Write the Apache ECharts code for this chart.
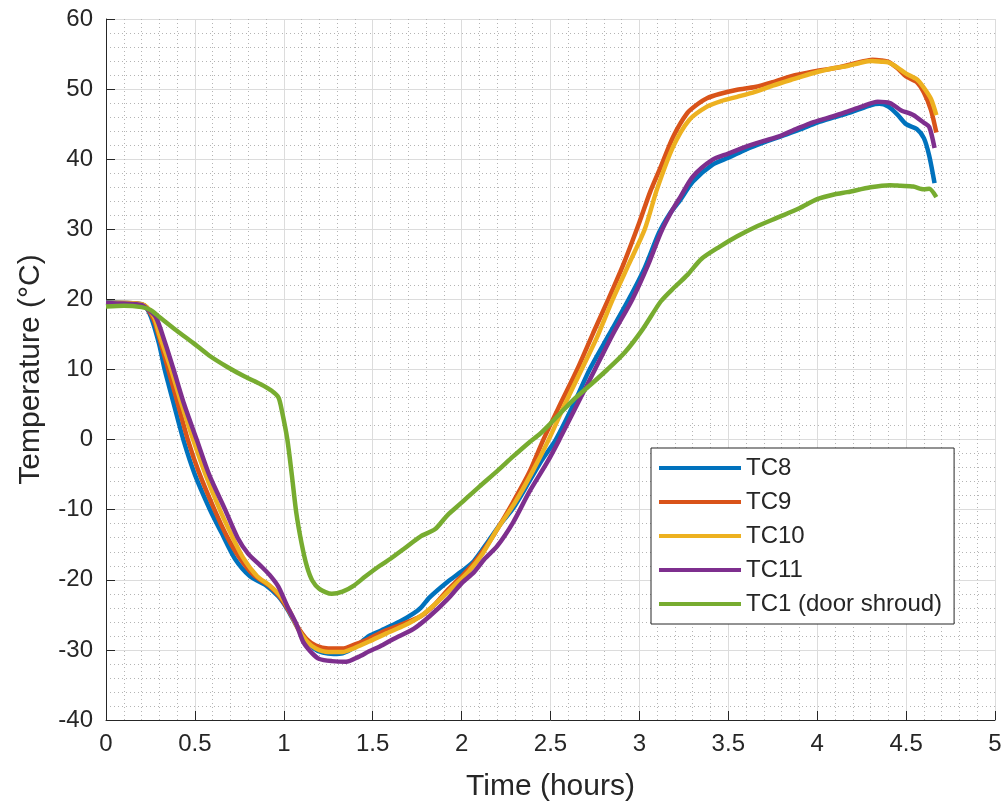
<!DOCTYPE html>
<html>
<head>
<meta charset="utf-8">
<script src="https://cdn.jsdelivr.net/npm/echarts@6/dist/echarts.min.js"></script>
<style>
  html, body { margin: 0; padding: 0; background: #fff; }
  #chart { width: 1008px; height: 807px; }
</style>
</head>
<body>
<div id="chart"></div>
<script>
// Thermocouple readings: time (hours) and temperature (°C) for each channel
const tc8Time = [0, 0.1, 0.2, 0.23, 0.26, 0.3, 0.33, 0.38, 0.435, 0.5, 0.585, 0.65, 0.725, 0.81, 0.9, 0.97, 1.02, 1.07, 1.11, 1.17, 1.22, 1.28, 1.33, 1.4, 1.48, 1.55, 1.65, 1.73, 1.77, 1.82, 1.92, 2.0, 2.07, 2.15, 2.22, 2.29, 2.38, 2.45, 2.53, 2.62, 2.72, 2.83, 2.94, 3.03, 3.11, 3.17, 3.23, 3.3, 3.41, 3.5, 3.6, 3.7, 3.8, 3.9, 4.0, 4.1, 4.2, 4.3, 4.35, 4.4, 4.45, 4.5, 4.56, 4.6, 4.63, 4.66];
const tc8Temp = [19.6, 19.5, 19.3, 18.7, 17, 13.5, 10, 5.2, 0, -5, -10, -13.3, -17, -19.5, -20.8, -22.4, -24.2, -26.5, -28, -29.8, -30.4, -30.6, -30.5, -29.6, -28, -27.2, -26, -24.8, -24, -22.5, -20.3, -18.8, -17.3, -14.5, -12, -9.8, -6, -3, 0, 4.5, 10, 15, 20, 24.5, 29.5, 32.2, 34.2, 36.8, 39.2, 40.2, 41.4, 42.4, 43.3, 44.2, 45.2, 46, 46.8, 47.7, 47.9, 47.5, 46.4, 45, 44.3, 43, 40.5, 36.6];

const tc9Time = [0, 0.1, 0.2, 0.23, 0.27, 0.3, 0.35, 0.4, 0.46, 0.52, 0.61, 0.68, 0.75, 0.83, 0.92, 0.98, 1.03, 1.08, 1.13, 1.18, 1.25, 1.33, 1.4, 1.48, 1.55, 1.65, 1.77, 1.85, 1.92, 2.0, 2.07, 2.15, 2.2, 2.29, 2.38, 2.46, 2.55, 2.65, 2.74, 2.825, 2.91, 3.0, 3.06, 3.12, 3.19, 3.27, 3.33, 3.38, 3.45, 3.55, 3.65, 3.75, 3.85, 3.98, 4.1, 4.17, 4.25, 4.31, 4.36, 4.4, 4.45, 4.5, 4.56, 4.6, 4.64, 4.67];
const tc9Temp = [19.5, 19.5, 19.3, 18.8, 17, 14.5, 10, 5.5, 0, -4.5, -10, -13.8, -16.8, -19.3, -20.9, -22.5, -24.5, -26.8, -28.5, -29.4, -29.8, -29.8, -29.2, -28.4, -27.5, -26.5, -25.2, -23.5, -21.5, -19.5, -17.6, -14.8, -12.8, -8.9, -4.7, 0, 4.8, 10, 15.2, 20, 25, 31, 35.3, 38.9, 43.2, 46.6, 47.9, 48.7, 49.3, 49.9, 50.3, 51, 51.8, 52.5, 53, 53.4, 53.9, 54.2, 54.1, 53.9, 53, 51.8, 51, 49.5, 47, 43.8];

const tc10Time = [0, 0.1, 0.2, 0.23, 0.27, 0.3, 0.36, 0.42, 0.49, 0.56, 0.64, 0.7, 0.77, 0.85, 0.92, 0.98, 1.03, 1.08, 1.13, 1.18, 1.25, 1.33, 1.4, 1.48, 1.58, 1.68, 1.78, 1.88, 1.96, 2.04, 2.12, 2.2, 2.3, 2.4, 2.49, 2.58, 2.675, 2.76, 2.85, 2.94, 3.03, 3.1, 3.19, 3.28, 3.38, 3.46, 3.55, 3.65, 3.75, 3.85, 3.98, 4.1, 4.17, 4.25, 4.31, 4.36, 4.4, 4.45, 4.5, 4.56, 4.6, 4.64, 4.67];
const tc10Temp = [19.5, 19.5, 19.3, 18.9, 17.5, 15, 10.5, 5.5, 0, -5, -10, -13.3, -16.8, -19.5, -20.8, -22.3, -24.3, -27, -28.8, -29.8, -30.3, -30.3, -29.7, -28.8, -27.6, -26.5, -25, -22.8, -20.8, -18.8, -16.2, -12.8, -9, -4.5, 0, 5, 10, 14.5, 20, 25, 30, 35.8, 41.8, 45.6, 47.5, 48.3, 48.9, 49.6, 50.5, 51.3, 52.3, 53, 53.3, 53.8, 54, 53.9, 53.8, 53.1, 52.2, 51.4, 50.2, 48.6, 46.3];

const tc11Time = [0, 0.1, 0.2, 0.23, 0.28, 0.33, 0.38, 0.44, 0.51, 0.58, 0.67, 0.74, 0.8, 0.87, 0.92, 0.97, 1.02, 1.07, 1.11, 1.16, 1.2, 1.27, 1.35, 1.42, 1.48, 1.54, 1.62, 1.73, 1.82, 1.92, 2.0, 2.07, 2.13, 2.2, 2.29, 2.38, 2.48, 2.55, 2.65, 2.75, 2.85, 2.96, 3.05, 3.12, 3.18, 3.23, 3.3, 3.41, 3.5, 3.6, 3.7, 3.79, 3.9, 3.98, 4.1, 4.17, 4.25, 4.34, 4.41, 4.47, 4.54, 4.6, 4.63, 4.66];
const tc11Temp = [19.5, 19.4, 19.2, 18.7, 17.5, 14, 10, 5, 0, -5, -10, -14, -16.3, -18, -19.3, -21, -23.8, -26.3, -28.9, -30.5, -31.3, -31.6, -31.7, -31, -30.2, -29.5, -28.4, -27, -25.2, -22.8, -20.5, -18.9, -17, -15.2, -11.8, -7.5, -3.3, 0, 5, 10, 15, 20, 25, 29.5, 32.5, 34.6, 37.5, 39.9, 40.8, 41.8, 42.6, 43.3, 44.5, 45.3, 46.2, 46.8, 47.5, 48.2, 48, 47, 46.3, 45.2, 44.6, 41.6];

const tc1Time = [0, 0.1, 0.2, 0.25, 0.3, 0.4, 0.49, 0.58, 0.68, 0.78, 0.87, 0.93, 0.97, 0.99, 1.02, 1.045, 1.07, 1.1, 1.13, 1.16, 1.2, 1.27, 1.33, 1.39, 1.46, 1.54, 1.6, 1.68, 1.77, 1.85, 1.92, 2.0, 2.1, 2.2, 2.29, 2.38, 2.44, 2.5, 2.63, 2.72, 2.82, 2.92, 3.02, 3.12, 3.2, 3.27, 3.35, 3.45, 3.55, 3.65, 3.79, 3.9, 4.0, 4.1, 4.17, 4.3, 4.41, 4.47, 4.54, 4.6, 4.63, 4.67];
const tc1Temp = [19, 19.1, 18.9, 18.5, 17.5, 15.5, 13.8, 12, 10.4, 9, 7.9, 7, 6, 4, 0, -5, -10.4, -14.8, -18.1, -20.1, -21.3, -22, -21.7, -20.9, -19.5, -18, -17, -15.5, -13.8, -12.8, -10.8, -9, -6.7, -4.5, -2.4, -0.4, 0.8, 2.3, 5.7, 7.7, 10, 12.5, 15.8, 19.7, 21.8, 23.5, 25.8, 27.5, 29, 30.3, 31.8, 33, 34.3, 35, 35.3, 36, 36.3, 36.2, 36.1, 35.7, 35.8, 34.6];

const seriesNames = ['TC8', 'TC9', 'TC10', 'TC11', 'TC1 (door shroud)'];
const seriesColors = ['#0072BD', '#D95319', '#EDB120', '#7E2F8E', '#77AC30'];
const xTicks = { min: 0, max: 5, step: 0.5 };
const yTicks = { min: -40, max: 60, step: 10 };

const pairs = (t, v) => t.map((x, i) => [x, v[i]]);
const allData = [
  pairs(tc8Time, tc8Temp),
  pairs(tc9Time, tc9Temp),
  pairs(tc10Time, tc10Temp),
  pairs(tc11Time, tc11Temp),
  pairs(tc1Time, tc1Temp)
];

const FONT = "'Liberation Sans', Arial, Helvetica, sans-serif";
const INK = '#262626';

const axisCommon = {
  axisLine: { show: true, onZero: false, lineStyle: { color: INK, width: 1 } },
  axisTick: { show: true, inside: true, length: 9, lineStyle: { color: INK } },
  axisLabel: { color: INK, fontSize: 24, fontFamily: FONT },
  splitLine: { show: true, lineStyle: { color: '#dcdcdc', width: 1 } },
  minorTick: { show: false, splitNumber: 5 },
  minorSplitLine: { show: true, lineStyle: { color: '#b4b4b4', width: 1, type: [1, 3] } },
  nameLocation: 'middle',
  nameTextStyle: { color: INK, fontSize: 30, fontFamily: FONT }
};

const chart = echarts.init(document.getElementById('chart'), null, { renderer: 'canvas' });
chart.setOption({
  animation: false,
  backgroundColor: '#ffffff',
  grid: { left: 106, top: 19, right: 13, bottom: 86, containLabel: false },
  xAxis: Object.assign({}, axisCommon, {
    type: 'value',
    min: xTicks.min, max: xTicks.max, interval: xTicks.step,
    name: 'Time (hours)',
    nameGap: 52,
    axisLabel: Object.assign({}, axisCommon.axisLabel, { margin: 12 })
  }),
  yAxis: Object.assign({}, axisCommon, {
    type: 'value',
    min: yTicks.min, max: yTicks.max, interval: yTicks.step,
    name: 'Temperature (°C)',
    nameGap: 60,
    axisLabel: Object.assign({}, axisCommon.axisLabel, { margin: 13 })
  }),
  legend: {
    orient: 'vertical',
    left: 651, top: 448,
    padding: [8, 12, 8, 8],
    icon: 'rect',
    itemWidth: 82, itemHeight: 4, itemGap: 10,
    backgroundColor: '#ffffff',
    borderColor: INK, borderWidth: 1, borderRadius: 0,
    textStyle: { color: INK, fontSize: 24, fontFamily: FONT, lineHeight: 24 },
    data: seriesNames
  },
  series: seriesNames.map((name, i) => ({
    name: name,
    type: 'line',
    data: allData[i],
    symbol: 'none',
    showSymbol: false,
    smooth: 0.25,
    color: seriesColors[i],
    lineStyle: { color: seriesColors[i], width: 4.5 },
    z: 2 + i
  }))
});
</script>
</body>
</html>
